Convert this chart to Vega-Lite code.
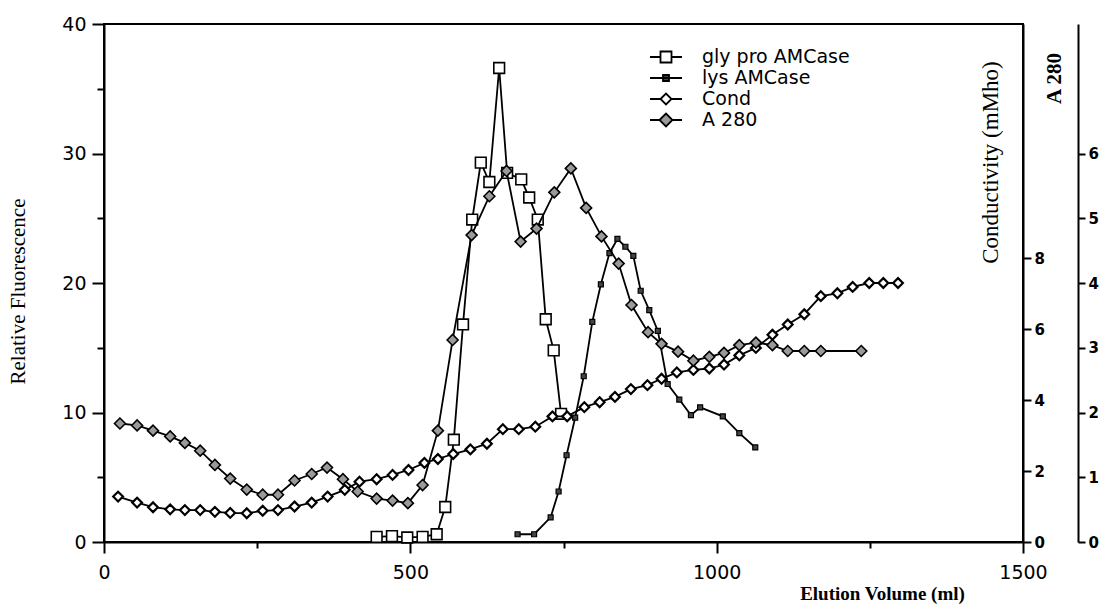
{
  "$schema": "https://vega.github.io/schema/vega-lite/v6.json",
  "width": 919,
  "height": 518,
  "autosize": {"type": "none"},
  "padding": {"left": 104, "top": 24, "right": 83, "bottom": 66},
  "background": "white",
  "config": {
    "view": {"stroke": "black", "strokeWidth": 2},
    "axis": {
      "domainColor": "black", "domainWidth": 2, "tickColor": "black", "tickWidth": 2,
      "grid": false, "labelColor": "black", "titleColor": "black"
    }
  },
  "datasets": {
    "fl": [
      {"vol": 445, "val": 0.4, "series": "gly pro AMCase"},
      {"vol": 470, "val": 0.45, "series": "gly pro AMCase"},
      {"vol": 495, "val": 0.35, "series": "gly pro AMCase"},
      {"vol": 520, "val": 0.4, "series": "gly pro AMCase"},
      {"vol": 543, "val": 0.6, "series": "gly pro AMCase"},
      {"vol": 557, "val": 2.7, "series": "gly pro AMCase"},
      {"vol": 571, "val": 7.9, "series": "gly pro AMCase"},
      {"vol": 586, "val": 16.8, "series": "gly pro AMCase"},
      {"vol": 601, "val": 24.9, "series": "gly pro AMCase"},
      {"vol": 615, "val": 29.3, "series": "gly pro AMCase"},
      {"vol": 629, "val": 27.8, "series": "gly pro AMCase"},
      {"vol": 645, "val": 36.6, "series": "gly pro AMCase"},
      {"vol": 658, "val": 28.5, "series": "gly pro AMCase"},
      {"vol": 681, "val": 28.0, "series": "gly pro AMCase"},
      {"vol": 694, "val": 26.6, "series": "gly pro AMCase"},
      {"vol": 708, "val": 24.9, "series": "gly pro AMCase"},
      {"vol": 721, "val": 17.2, "series": "gly pro AMCase"},
      {"vol": 734, "val": 14.8, "series": "gly pro AMCase"},
      {"vol": 746, "val": 9.9, "series": "gly pro AMCase"},
      {"vol": 675, "val": 0.6, "series": "lys AMCase"},
      {"vol": 702, "val": 0.6, "series": "lys AMCase"},
      {"vol": 729, "val": 1.9, "series": "lys AMCase"},
      {"vol": 742, "val": 3.9, "series": "lys AMCase"},
      {"vol": 755, "val": 6.7, "series": "lys AMCase"},
      {"vol": 769, "val": 9.6, "series": "lys AMCase"},
      {"vol": 783, "val": 12.8, "series": "lys AMCase"},
      {"vol": 797, "val": 17.0, "series": "lys AMCase"},
      {"vol": 811, "val": 19.9, "series": "lys AMCase"},
      {"vol": 825, "val": 22.3, "series": "lys AMCase"},
      {"vol": 838, "val": 23.4, "series": "lys AMCase"},
      {"vol": 851, "val": 22.8, "series": "lys AMCase"},
      {"vol": 864, "val": 22.1, "series": "lys AMCase"},
      {"vol": 876, "val": 19.4, "series": "lys AMCase"},
      {"vol": 890, "val": 17.9, "series": "lys AMCase"},
      {"vol": 904, "val": 16.3, "series": "lys AMCase"},
      {"vol": 920, "val": 12.2, "series": "lys AMCase"},
      {"vol": 939, "val": 11.0, "series": "lys AMCase"},
      {"vol": 958, "val": 9.8, "series": "lys AMCase"},
      {"vol": 973, "val": 10.4, "series": "lys AMCase"},
      {"vol": 1010, "val": 9.7, "series": "lys AMCase"},
      {"vol": 1037, "val": 8.4, "series": "lys AMCase"},
      {"vol": 1063, "val": 7.3, "series": "lys AMCase"}
    ],
    "cond": [
      {"vol": 23, "val": 1.28, "series": "Cond"},
      {"vol": 54, "val": 1.11, "series": "Cond"},
      {"vol": 80, "val": 0.98, "series": "Cond"},
      {"vol": 108, "val": 0.92, "series": "Cond"},
      {"vol": 132, "val": 0.9, "series": "Cond"},
      {"vol": 157, "val": 0.9, "series": "Cond"},
      {"vol": 181, "val": 0.85, "series": "Cond"},
      {"vol": 206, "val": 0.82, "series": "Cond"},
      {"vol": 233, "val": 0.81, "series": "Cond"},
      {"vol": 259, "val": 0.88, "series": "Cond"},
      {"vol": 284, "val": 0.9, "series": "Cond"},
      {"vol": 311, "val": 1.0, "series": "Cond"},
      {"vol": 339, "val": 1.11, "series": "Cond"},
      {"vol": 365, "val": 1.28, "series": "Cond"},
      {"vol": 393, "val": 1.47, "series": "Cond"},
      {"vol": 417, "val": 1.7, "series": "Cond"},
      {"vol": 445, "val": 1.77, "series": "Cond"},
      {"vol": 471, "val": 1.89, "series": "Cond"},
      {"vol": 497, "val": 2.03, "series": "Cond"},
      {"vol": 523, "val": 2.23, "series": "Cond"},
      {"vol": 545, "val": 2.34, "series": "Cond"},
      {"vol": 570, "val": 2.48, "series": "Cond"},
      {"vol": 598, "val": 2.61, "series": "Cond"},
      {"vol": 625, "val": 2.77, "series": "Cond"},
      {"vol": 651, "val": 3.18, "series": "Cond"},
      {"vol": 677, "val": 3.18, "series": "Cond"},
      {"vol": 704, "val": 3.25, "series": "Cond"},
      {"vol": 732, "val": 3.54, "series": "Cond"},
      {"vol": 756, "val": 3.54, "series": "Cond"},
      {"vol": 784, "val": 3.8, "series": "Cond"},
      {"vol": 809, "val": 3.94, "series": "Cond"},
      {"vol": 834, "val": 4.09, "series": "Cond"},
      {"vol": 860, "val": 4.31, "series": "Cond"},
      {"vol": 887, "val": 4.42, "series": "Cond"},
      {"vol": 910, "val": 4.6, "series": "Cond"},
      {"vol": 935, "val": 4.78, "series": "Cond"},
      {"vol": 962, "val": 4.85, "series": "Cond"},
      {"vol": 988, "val": 4.89, "series": "Cond"},
      {"vol": 1012, "val": 5.0, "series": "Cond"},
      {"vol": 1037, "val": 5.26, "series": "Cond"},
      {"vol": 1064, "val": 5.47, "series": "Cond"},
      {"vol": 1091, "val": 5.84, "series": "Cond"},
      {"vol": 1116, "val": 6.13, "series": "Cond"},
      {"vol": 1143, "val": 6.42, "series": "Cond"},
      {"vol": 1170, "val": 6.93, "series": "Cond"},
      {"vol": 1197, "val": 7.01, "series": "Cond"},
      {"vol": 1222, "val": 7.19, "series": "Cond"},
      {"vol": 1249, "val": 7.3, "series": "Cond"},
      {"vol": 1272, "val": 7.3, "series": "Cond"},
      {"vol": 1296, "val": 7.3, "series": "Cond"}
    ],
    "a280": [
      {"vol": 26, "val": 1.83, "series": "A 280"},
      {"vol": 54, "val": 1.8, "series": "A 280"},
      {"vol": 80, "val": 1.72, "series": "A 280"},
      {"vol": 108, "val": 1.63, "series": "A 280"},
      {"vol": 132, "val": 1.53, "series": "A 280"},
      {"vol": 157, "val": 1.41, "series": "A 280"},
      {"vol": 181, "val": 1.19, "series": "A 280"},
      {"vol": 206, "val": 0.98, "series": "A 280"},
      {"vol": 233, "val": 0.81, "series": "A 280"},
      {"vol": 259, "val": 0.73, "series": "A 280"},
      {"vol": 284, "val": 0.73, "series": "A 280"},
      {"vol": 311, "val": 0.95, "series": "A 280"},
      {"vol": 339, "val": 1.05, "series": "A 280"},
      {"vol": 364, "val": 1.15, "series": "A 280"},
      {"vol": 390, "val": 0.97, "series": "A 280"},
      {"vol": 414, "val": 0.78, "series": "A 280"},
      {"vol": 445, "val": 0.67, "series": "A 280"},
      {"vol": 471, "val": 0.64, "series": "A 280"},
      {"vol": 496, "val": 0.6, "series": "A 280"},
      {"vol": 520, "val": 0.88, "series": "A 280"},
      {"vol": 545, "val": 1.72, "series": "A 280"},
      {"vol": 569, "val": 3.12, "series": "A 280"},
      {"vol": 600, "val": 4.74, "series": "A 280"},
      {"vol": 629, "val": 5.34, "series": "A 280"},
      {"vol": 657, "val": 5.73, "series": "A 280"},
      {"vol": 680, "val": 4.64, "series": "A 280"},
      {"vol": 706, "val": 4.84, "series": "A 280"},
      {"vol": 735, "val": 5.4, "series": "A 280"},
      {"vol": 762, "val": 5.77, "series": "A 280"},
      {"vol": 787, "val": 5.16, "series": "A 280"},
      {"vol": 812, "val": 4.72, "series": "A 280"},
      {"vol": 840, "val": 4.3, "series": "A 280"},
      {"vol": 861, "val": 3.66, "series": "A 280"},
      {"vol": 888, "val": 3.24, "series": "A 280"},
      {"vol": 910, "val": 3.06, "series": "A 280"},
      {"vol": 937, "val": 2.94, "series": "A 280"},
      {"vol": 962, "val": 2.8, "series": "A 280"},
      {"vol": 988, "val": 2.86, "series": "A 280"},
      {"vol": 1012, "val": 2.92, "series": "A 280"},
      {"vol": 1037, "val": 3.04, "series": "A 280"},
      {"vol": 1064, "val": 3.08, "series": "A 280"},
      {"vol": 1091, "val": 3.04, "series": "A 280"},
      {"vol": 1116, "val": 2.95, "series": "A 280"},
      {"vol": 1143, "val": 2.95, "series": "A 280"},
      {"vol": 1170, "val": 2.95, "series": "A 280"},
      {"vol": 1236, "val": 2.95, "series": "A 280"}
    ]
  },
  "encoding": {
    "x": {
      "field": "vol", "type": "quantitative",
      "scale": {"domain": [0, 1500], "nice": false, "zero": false},
      "axis": {
        "values": [0, 250, 500, 750, 1000, 1250, 1500],
        "format": "d",
        "labelExpr": "datum.value % 500 === 0 ? datum.label : ''",
        "tickSize": {"condition": {"test": "datum.value % 500 === 0", "value": 11}, "value": 6},
        "labelFont": "DejaVu Sans", "labelFontSize": 19, "labelPadding": 10, "labelFlush": false,
        "title": "Elution Volume (ml)", "titleFont": "Liberation Serif", "titleFontSize": 19,
        "titleFontWeight": "bold", "titleX": 778, "titleY": 51, "titleAlign": "center", "titleBaseline": "middle"
      }
    }
  },
  "layer": [
    {
      "data": {"name": "fl"},
      "encoding": {
        "y": {
          "field": "val", "type": "quantitative",
          "scale": {"domain": [0, 40], "nice": false},
          "axis": {
            "orient": "left",
            "values": [0, 5, 10, 15, 20, 25, 30, 35, 40],
            "labelExpr": "datum.value % 10 === 0 ? datum.label : ''",
            "tickSize": {"condition": {"test": "datum.value % 10 === 0", "value": 12}, "value": 7},
            "labelFont": "DejaVu Sans", "labelFontSize": 19, "labelPadding": 6, "labelFlush": false,
            "title": "Relative Fluorescence", "titleFont": "Liberation Serif", "titleFontSize": 21,
            "titleFontWeight": "normal", "titleX": -86, "titleY": 267, "titleAngle": 270,
            "titleAlign": "center", "titleBaseline": "middle"
          }
        }
      },
      "layer": [
        {"mark": {"type": "line", "color": "black", "strokeWidth": 1.8}, "encoding": {"detail": {"field": "series"}}},
        {
          "transform": [{"filter": "datum.series === 'gly pro AMCase'"}],
          "mark": {"type": "point", "shape": "square", "filled": true, "fill": "white", "stroke": "black", "strokeWidth": 1.6, "opacity": 1, "size": 115}
        },
        {
          "transform": [{"filter": "datum.series === 'lys AMCase'"}],
          "mark": {"type": "point", "shape": "square", "filled": true, "fill": "#444", "stroke": "black", "strokeWidth": 1.2, "opacity": 1, "size": 25}
        },
        {
          "transform": [{"filter": "datum.vol < 0"}],
          "mark": {"type": "point", "filled": false, "stroke": "black", "strokeWidth": 1.8, "opacity": 1},
          "encoding": {
            "shape": {"field": "series", "type": "nominal",
              "scale": {"domain": ["gly pro AMCase", "lys AMCase", "Cond", "A 280"],
                "range": [
                  "M-1.6,0H-0.55M0.55,0H1.6M-0.55,-0.55H0.55V0.55H-0.55Z",
                  "M-1.6,0H1.6M-0.3,-0.3H0.3V0.3H-0.3Z",
                  "M-1.6,0H-0.55M0.55,0H1.6M-0.55,0L0,-0.55L0.55,0L0,0.55Z",
                  "M-1.6,0H-0.65M0.65,0H1.6M-0.65,0L0,-0.65L0.65,0L0,0.65Z"
                ]},
              "legend": {
                "orient": "none", "legendX": 551, "legendY": 22, "title": null, "padding": 0,
                "symbolSize": 400, "symbolStrokeWidth": 1.8,
                "rowPadding": -5, "labelOffset": 25, "labelLimit": 400,
                "labelFont": "DejaVu Sans", "labelFontSize": 19, "labelColor": "black"
              }
            },
            "fill": {"field": "series", "type": "nominal",
              "scale": {"domain": ["gly pro AMCase", "lys AMCase", "Cond", "A 280"], "range": ["white", "#444", "white", "#9a9a9a"]},
              "legend": null
            }
          }
        }
      ]
    },
    {
      "data": {"name": "cond"},
      "encoding": {
        "y": {
          "field": "val", "type": "quantitative",
          "scale": {"domain": [0, 14.6], "nice": false},
          "axis": {
            "orient": "right", "offset": 0,
            "values": [0, 2, 4, 6, 8],
            "tickSize": 8, "labelPadding": 3, "labelFlush": false,
            "labelFont": "DejaVu Sans", "labelFontSize": 15, "labelFontWeight": "bold",
            "title": "Conductivity (mMho)", "titleFont": "Liberation Serif", "titleFontSize": 23,
            "titleFontWeight": "normal", "titleX": -33, "titleY": 138, "titleAngle": 270,
            "titleAlign": "center", "titleBaseline": "middle"
          }
        }
      },
      "layer": [
        {"mark": {"type": "line", "color": "black", "strokeWidth": 1.8}, "encoding": {}},
        {"mark": {"type": "point", "shape": "diamond", "filled": true, "fill": "white", "stroke": "black", "strokeWidth": 2.2, "opacity": 1, "size": 95}}
      ]
    },
    {
      "data": {"name": "a280"},
      "encoding": {
        "y": {
          "field": "val", "type": "quantitative",
          "scale": {"domain": [0, 8], "nice": false},
          "axis": {
            "orient": "right", "offset": 55,
            "values": [0, 1, 2, 3, 4, 5, 6],
            "tickSize": 7, "labelPadding": 3, "labelFlush": false,
            "labelFont": "DejaVu Sans", "labelFontSize": 15, "labelFontWeight": "bold",
            "title": "A 280", "titleFont": "Liberation Serif", "titleFontSize": 21,
            "titleFontWeight": "bold", "titleX": -24, "titleY": 54, "titleAngle": 270,
            "titleAlign": "center", "titleBaseline": "middle"
          }
        }
      },
      "layer": [
        {"mark": {"type": "line", "color": "black", "strokeWidth": 1.8}, "encoding": {}},
        {"mark": {"type": "point", "shape": "diamond", "filled": true, "fill": "#9a9a9a", "stroke": "black", "strokeWidth": 1.6, "opacity": 1, "size": 120}}
      ]
    }
  ],
  "resolve": {"scale": {"y": "independent"}}
}
